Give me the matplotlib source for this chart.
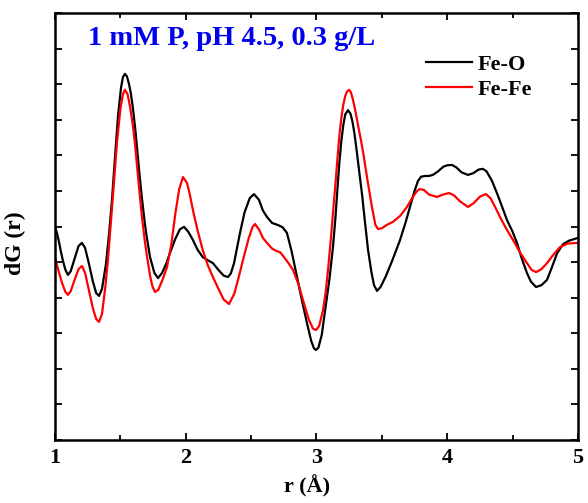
import numpy as np
import matplotlib.pyplot as plt
from matplotlib.ticker import MultipleLocator, NullFormatter

plt.rcParams['font.family'] = ['Liberation Serif', 'DejaVu Serif']
plt.rcParams['font.weight'] = 'bold'

# Fe-O curve (r in Angstrom, dG in axis units 0..12)
r_feo = [1.000, 1.015, 1.030, 1.045, 1.060, 1.080, 1.099, 1.120, 1.150, 1.180,
         1.206, 1.230, 1.260, 1.290, 1.315, 1.337, 1.360, 1.390, 1.415, 1.436,
         1.460, 1.482, 1.505, 1.520, 1.535, 1.550, 1.565, 1.580, 1.597, 1.615,
         1.630, 1.648, 1.665, 1.685, 1.700, 1.727, 1.760, 1.788, 1.820, 1.850,
         1.880, 1.920, 1.955, 1.987, 2.020, 2.055, 2.090, 2.130, 2.170, 2.208,
         2.250, 2.290, 2.323, 2.345, 2.370, 2.390, 2.415, 2.450, 2.490, 2.522,
         2.560, 2.590, 2.621, 2.660, 2.706, 2.740, 2.774, 2.810, 2.851, 2.890,
         2.927, 2.960, 2.980, 2.996, 3.015, 3.040, 3.070, 3.100, 3.126, 3.145,
         3.160, 3.175, 3.190, 3.205, 3.220, 3.241, 3.260, 3.275, 3.290, 3.305,
         3.320, 3.335, 3.350, 3.370, 3.394, 3.420, 3.440, 3.463, 3.490, 3.530,
         3.580, 3.639, 3.680, 3.715, 3.750, 3.776, 3.800, 3.830, 3.860, 3.890,
         3.930, 3.970, 4.000, 4.036, 4.070, 4.110, 4.159, 4.200, 4.240, 4.273,
         4.300, 4.340, 4.380, 4.420, 4.457, 4.500, 4.533, 4.570, 4.610, 4.640,
         4.679, 4.720, 4.763, 4.800, 4.840, 4.885, 4.930, 5.000]
g_feo = [5.99, 5.82, 5.58, 5.30, 5.05, 4.78, 4.64, 4.74, 5.10, 5.45,
         5.54, 5.40, 4.95, 4.45, 4.13, 4.05, 4.25, 4.95, 5.85, 6.75,
         8.00, 9.10, 9.90, 10.20, 10.29, 10.22, 10.02, 9.75, 9.30, 8.70,
         8.10, 7.40, 6.80, 6.15, 5.75, 5.14, 4.70, 4.55, 4.70, 4.95,
         5.26, 5.65, 5.92, 5.99, 5.85, 5.62, 5.35, 5.14, 5.05, 4.97,
         4.78, 4.62, 4.58, 4.68, 4.98, 5.35, 5.82, 6.40, 6.80, 6.91,
         6.75, 6.45, 6.27, 6.10, 6.04, 5.98, 5.82, 5.30, 4.58, 3.90,
         3.29, 2.78, 2.58, 2.53, 2.60, 2.95, 3.75, 4.55, 5.42, 6.25,
         7.05, 7.80, 8.40, 8.85, 9.15, 9.27, 9.17, 8.95, 8.62, 8.20,
         7.75, 7.30, 6.85, 6.15, 5.35, 4.72, 4.35, 4.19, 4.30, 4.60,
         5.05, 5.62, 6.10, 6.55, 7.00, 7.28, 7.40, 7.42, 7.42, 7.45,
         7.55, 7.68, 7.72, 7.73, 7.66, 7.52, 7.45, 7.50, 7.60, 7.62,
         7.55, 7.30, 6.94, 6.55, 6.18, 5.85, 5.54, 5.10, 4.69, 4.45,
         4.30, 4.35, 4.50, 4.85, 5.25, 5.50, 5.60, 5.68]

# Fe-Fe curve
r_fefe = [1.000, 1.015, 1.030, 1.045, 1.060, 1.080, 1.099, 1.120, 1.150, 1.180,
          1.206, 1.230, 1.260, 1.290, 1.315, 1.337, 1.360, 1.385, 1.405, 1.440,
          1.474, 1.500, 1.520, 1.535, 1.555, 1.575, 1.597, 1.615, 1.630, 1.648,
          1.665, 1.685, 1.700, 1.727, 1.745, 1.765, 1.790, 1.820, 1.857, 1.890,
          1.920, 1.950, 1.979, 2.010, 2.030, 2.055, 2.090, 2.130, 2.170, 2.208,
          2.250, 2.290, 2.331, 2.370, 2.400, 2.438, 2.480, 2.510, 2.530, 2.560,
          2.590, 2.621, 2.660, 2.700, 2.721, 2.760, 2.790, 2.820, 2.860, 2.897,
          2.940, 2.973, 2.996, 3.020, 3.050, 3.070, 3.090, 3.110, 3.126, 3.145,
          3.160, 3.175, 3.190, 3.205, 3.220, 3.235, 3.249, 3.262, 3.275, 3.290,
          3.305, 3.320, 3.335, 3.356, 3.390, 3.424, 3.450, 3.470, 3.500, 3.540,
          3.585, 3.640, 3.692, 3.740, 3.770, 3.790, 3.820, 3.860, 3.920, 3.970,
          4.013, 4.050, 4.100, 4.159, 4.200, 4.250, 4.296, 4.330, 4.370, 4.403,
          4.450, 4.503, 4.560, 4.610, 4.645, 4.679, 4.720, 4.763, 4.810, 4.862,
          4.920, 5.000]
g_fefe = [5.14, 4.92, 4.72, 4.52, 4.35, 4.16, 4.08, 4.18, 4.50, 4.80,
          4.89, 4.70, 4.20, 3.70, 3.40, 3.32, 3.55, 4.30, 5.06, 6.70,
          8.35, 9.30, 9.72, 9.84, 9.72, 9.35, 8.80, 8.20, 7.60, 6.90,
          6.27, 5.65, 5.25, 4.62, 4.32, 4.16, 4.22, 4.48, 4.86, 5.50,
          6.35, 7.05, 7.39, 7.22, 6.92, 6.46, 5.90, 5.34, 4.90, 4.58,
          4.25, 3.95, 3.82, 4.10, 4.50, 5.06, 5.65, 5.98, 6.07, 5.92,
          5.68, 5.54, 5.38, 5.30, 5.28, 5.10, 4.95, 4.78, 4.40, 3.93,
          3.40, 3.13, 3.09, 3.20, 3.65, 4.15, 4.85, 5.65, 6.38, 7.20,
          7.90, 8.55, 9.05, 9.42, 9.67, 9.80, 9.84, 9.78, 9.62, 9.38,
          9.10, 8.80, 8.52, 8.10, 7.30, 6.55, 6.05, 5.93, 5.95, 6.05,
          6.13, 6.30, 6.55, 6.85, 7.00, 7.05, 7.03, 6.90, 6.83, 6.90,
          6.94, 6.88, 6.70, 6.55, 6.65, 6.84, 6.91, 6.80, 6.52, 6.27,
          5.95, 5.62, 5.25, 4.97, 4.78, 4.72, 4.80, 4.97, 5.20, 5.42,
          5.52, 5.54]

fig = plt.figure(figsize=(5.88, 5.03), dpi=100)
ax = fig.add_axes([0.0935, 0.1252, 0.8895, 0.849])

ax.plot(r_feo, g_feo, color='black', lw=1.6, label='Fe-O')
ax.plot(r_fefe, g_fefe, color='red', lw=1.6, label='Fe-Fe')

ax.set_xlim(1, 5)
ax.set_ylim(0, 12)
ax.xaxis.set_major_locator(MultipleLocator(1))
ax.xaxis.set_minor_locator(MultipleLocator(0.5))
ax.yaxis.set_major_locator(MultipleLocator(1))
ax.yaxis.set_major_formatter(NullFormatter())
ax.tick_params(which='both', direction='in', top=True, right=True, width=1.3)
ax.tick_params(which='major', length=5, labelsize=16, pad=6)
ax.tick_params(which='minor', length=3.5)
for s in ax.spines.values():
    s.set_linewidth(1.8)

ax.set_xlabel('r (Å)', fontsize=16, fontweight='bold')
ax.xaxis.set_label_coords(0.482, -0.083)
ax.set_ylabel('dG (r)', fontsize=17, fontweight='bold')
ax.yaxis.set_label_coords(-0.055, 0.46)

ax.text(0.063, 0.94, '1 mM P, pH 4.5, 0.3 g/L', transform=ax.transAxes,
        color='#0000ee', fontsize=20.5, fontweight='bold', va='center')
ax.legend(loc='upper right', bbox_to_anchor=(0.951, 0.95), frameon=False,
          handlelength=2.1, handletextpad=0.25, labelspacing=0.2,
          prop={'weight': 'bold', 'size': 16})

fig.savefig('out.png', dpi=100)
